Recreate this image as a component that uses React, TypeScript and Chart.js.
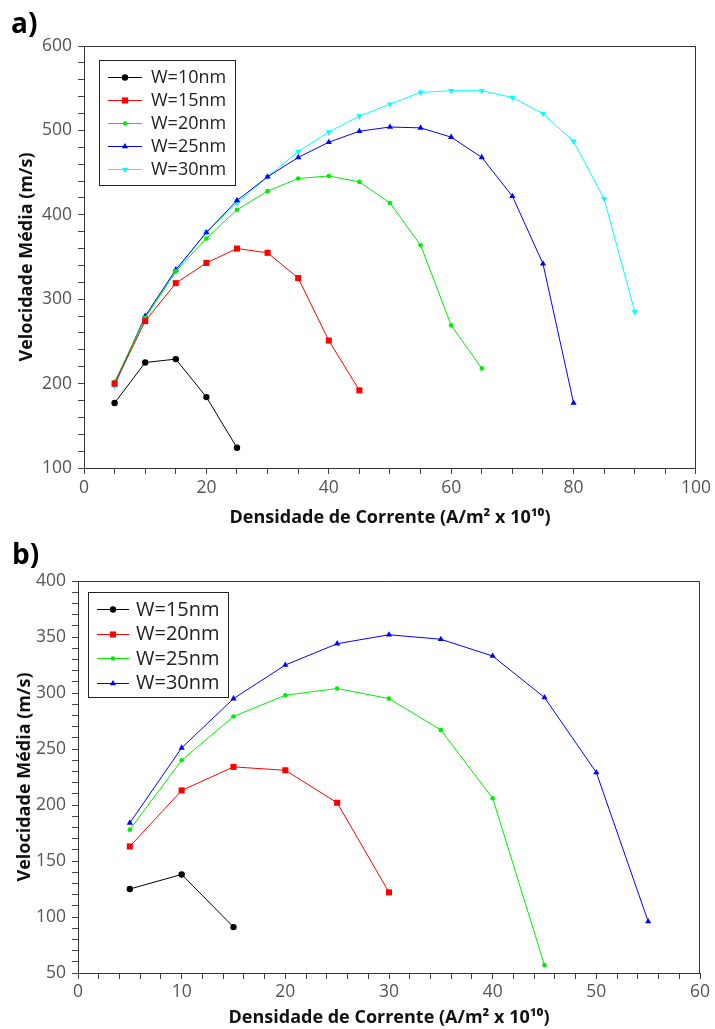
import React, { useEffect, useRef } from 'react';
import { Chart, registerables } from 'chart.js';
Chart.register(...registerables);

// ---------- data: chart a ----------
const xStepsA = [5, 10, 15, 20, 25, 30, 35, 40, 45, 50, 55, 60, 65, 70, 75, 80, 85, 90];
const aLabels = ['W=10nm', 'W=15nm', 'W=20nm', 'W=25nm', 'W=30nm'];
const aW10 = [177, 225, 229, 184, 124];
const aW15 = [200, 274, 319, 343, 360, 355, 325, 251, 192];
const aW20 = [202, 278, 333, 372, 406, 428, 443, 446, 439, 414, 364, 269, 218];
const aW25 = [199, 280, 335, 379, 417, 445, 468, 486, 499, 504, 503, 492, 468, 422, 342, 177];
const aW30 = [197, 278, 333, 380, 414, 445, 475, 498, 517, 531, 545, 547, 547, 539, 520, 487, 419, 285];

// ---------- data: chart b ----------
const xStepsB = [5, 10, 15, 20, 25, 30, 35, 40, 45, 50, 55];
const bLabels = ['W=15nm', 'W=20nm', 'W=25nm', 'W=30nm'];
const bW15 = [125, 138, 91];
const bW20 = [163, 213, 234, 231, 202, 122];
const bW25 = [178, 240, 279, 298, 304, 295, 267, 206, 57];
const bW30 = [184, 251, 295, 325, 344, 352, 348, 333, 296, 229, 96];

const xTitle = 'Densidade de Corrente (A/m² x 10¹⁰)';
const yTitle = 'Velocidade Média (m/s)';

const FONT = '"Open Sans", "DejaVu Sans", sans-serif';

type Style = { color: string; shape: string; r: number };
const sBlack: Style = { color: '#000000', shape: 'circle', r: 3.2 };
const sRed: Style = { color: '#ff0000', shape: 'rect', r: 4.3 };
const sGreen: Style = { color: '#00ee00', shape: 'circle', r: 2.3 };
const sBlue: Style = { color: '#0000ff', shape: 'triangle', r: 3.6 };
const sCyan: Style = { color: '#00ffff', shape: 'triangleDown', r: 3.6 };

function toPoints(xs: number[], ys: number[]) {
  return ys.map((y, i) => ({ x: xs[i], y }));
}

function makeDataset(label: string, xs: number[], ys: number[], s: Style) {
  return {
    label,
    data: toPoints(xs, ys),
    borderColor: s.color,
    backgroundColor: s.color,
    borderWidth: 1,
    pointStyle: s.shape === 'triangleDown' ? 'triangle' : s.shape,
    rotation: s.shape === 'triangleDown' ? 180 : 0,
    pointRadius: s.r,
    pointBorderWidth: 0,
    pointBackgroundColor: s.color,
    tension: 0,
    _shape: s.shape,
  };
}

function drawMarker(ctx: CanvasRenderingContext2D, shape: string, x: number, y: number, r: number, color: string) {
  ctx.save();
  ctx.fillStyle = color;
  ctx.beginPath();
  if (shape === 'circle') {
    ctx.arc(x, y, r, 0, Math.PI * 2);
  } else if (shape === 'rect') {
    const h = r * Math.SQRT1_2;
    ctx.rect(x - h, y - h, 2 * h, 2 * h);
  } else if (shape === 'triangle' || shape === 'triangleDown') {
    const sgn = shape === 'triangle' ? 1 : -1;
    const side = (3 * r) / Math.sqrt(3);
    const height = (side * Math.sqrt(3)) / 2;
    ctx.moveTo(x, y - sgn * (2 * height) / 3);
    ctx.lineTo(x - side / 2, y + sgn * height / 3);
    ctx.lineTo(x + side / 2, y + sgn * height / 3);
    ctx.closePath();
  }
  ctx.fill();
  ctx.restore();
}

const decorPlugin = {
  id: 'decor',
  afterDraw(chart: any, _args: any, opts: any) {
    const { ctx, chartArea: ca } = chart;
    ctx.save();
    // frame top and right
    ctx.strokeStyle = '#333';
    ctx.lineWidth = 1;
    ctx.beginPath();
    const t = Math.round(ca.top) + 0.5;
    const r = Math.round(ca.right) - 0.5;
    ctx.moveTo(ca.left, t);
    ctx.lineTo(r, t);
    ctx.lineTo(r, ca.bottom);
    ctx.stroke();

    // legend
    const L = opts.legend;
    const bx = ca.left + L.dx;
    const by = ca.top + L.dy;
    ctx.fillStyle = '#ffffff';
    ctx.fillRect(bx, by, L.w, L.h);
    ctx.strokeStyle = '#222';
    ctx.strokeRect(Math.round(bx) + 0.5, Math.round(by) + 0.5, L.w, L.h);
    ctx.font = `${L.fontSize}px ${FONT}`;
    ctx.textBaseline = 'middle';
    ctx.textAlign = 'left';
    chart.data.datasets.forEach((ds: any, i: number) => {
      const y = by + L.firstY + i * L.gap;
      ctx.strokeStyle = ds.borderColor;
      ctx.lineWidth = 1;
      ctx.beginPath();
      ctx.moveTo(bx + L.lineX0, Math.round(y) + 0.5);
      ctx.lineTo(bx + L.lineX1, Math.round(y) + 0.5);
      ctx.stroke();
      drawMarker(ctx, ds._shape, bx + (L.lineX0 + L.lineX1) / 2, Math.round(y) + 0.5, ds.pointRadius, ds.borderColor);
      ctx.fillStyle = '#222';
      ctx.fillText(ds.label, bx + L.textX, y + 1);
    });

    // panel label
    ctx.fillStyle = '#000';
    ctx.font = `bold 28px ${FONT}`;
    ctx.textBaseline = 'alphabetic';
    ctx.fillText(opts.panel, opts.panelX, opts.panelY);
    ctx.restore();
  },
};

function makeConfig(p: any) {
  return {
    type: 'line',
    data: { datasets: p.datasets },
    plugins: [decorPlugin],
    options: {
      responsive: false,
      animation: false,
      layout: { padding: { top: p.padTop, right: p.padRight, left: 0, bottom: 0 } },
      plugins: {
        legend: { display: false },
        tooltip: { enabled: false },
        decor: { legend: p.legend, panel: p.panel, panelX: p.panelX, panelY: p.panelY },
      },
      scales: {
        x: {
          type: 'linear',
          min: p.xMin,
          max: p.xMax,
          afterFit: (s: any) => { s.height = p.xAxisH; },
          border: { display: true, color: '#333', width: 1 },
          grid: { display: true, drawOnChartArea: false, drawTicks: true, tickLength: 6, color: '#444' },
          ticks: {
            stepSize: p.xMinor,
            autoSkip: false,
            maxRotation: 0,
            padding: p.xTickPad,
            color: '#555',
            font: { family: FONT, size: 17.5 },
            callback: (v: number) => (Math.abs(v % p.xMajor) < 1e-9 ? String(v) : ''),
          },
          title: {
            display: true,
            text: xTitle,
            color: '#111',
            font: { family: FONT, size: 18, weight: 'bold' },
            padding: { top: 0, bottom: p.xTitlePad },
          },
        },
        y: {
          type: 'linear',
          min: p.yMin,
          max: p.yMax,
          afterFit: (s: any) => { s.width = p.yAxisW; },
          border: { display: true, color: '#333', width: 1 },
          grid: { display: true, drawOnChartArea: false, drawTicks: true, tickLength: 6, color: '#444' },
          ticks: {
            stepSize: p.yMinor,
            autoSkip: false,
            padding: 6,
            color: '#555',
            font: { family: FONT, size: 17.5 },
            callback: (v: number) => (Math.abs(v % p.yMajor) < 1e-9 ? String(v) : ''),
          },
          title: {
            display: true,
            text: yTitle,
            color: '#111',
            font: { family: FONT, size: 18, weight: 'bold' },
            padding: { top: p.yTitlePad, bottom: 0 },
          },
        },
      },
    },
  };
}

const configA = () =>
  makeConfig({
    datasets: [
      makeDataset(aLabels[0], xStepsA, aW10, sBlack),
      makeDataset(aLabels[1], xStepsA, aW15, sRed),
      makeDataset(aLabels[2], xStepsA, aW20, sGreen),
      makeDataset(aLabels[3], xStepsA, aW25, sBlue),
      makeDataset(aLabels[4], xStepsA, aW30, sCyan),
    ],
    padTop: 46, padRight: 18, xAxisH: 62, yAxisW: 84,
    xMin: 0, xMax: 100, xMinor: 5, xMajor: 20,
    yMin: 100, yMax: 600, yMinor: 20, yMajor: 100,
    xTickPad: 4, xTitlePad: 1, yTitlePad: 16,
    legend: { dx: 15, dy: 14, w: 136, h: 125, firstY: 17, gap: 23, lineX0: 9, lineX1: 43, textX: 52, fontSize: 18 },
    panel: 'a)', panelX: 11, panelY: 33,
  });

const configB = () =>
  makeConfig({
    datasets: [
      makeDataset(bLabels[0], xStepsB, bW15, sBlack),
      makeDataset(bLabels[1], xStepsB, bW20, sRed),
      makeDataset(bLabels[2], xStepsB, bW25, sGreen),
      makeDataset(bLabels[3], xStepsB, bW30, sBlue),
    ],
    padTop: 51, padRight: 15, xAxisH: 56, yAxisW: 78,
    xMin: 0, xMax: 60, xMinor: 2, xMajor: 10,
    yMin: 50, yMax: 400, yMinor: 10, yMajor: 50,
    xTickPad: 3, xTitlePad: 0, yTitlePad: 14,
    legend: { dx: 10, dy: 11, w: 140, h: 105, firstY: 17, gap: 24.5, lineX0: 9, lineX1: 41, textX: 48, fontSize: 20 },
    panel: 'b)', panelX: 12, panelY: 34,
  });

function ChartCanvas({ make, width, height }: { make: () => any; width: number; height: number }) {
  const ref = useRef<HTMLCanvasElement | null>(null);
  useEffect(() => {
    if (!ref.current) return;
    const chart = new Chart(ref.current, make());
    return () => chart.destroy();
  }, [make]);
  return <canvas ref={ref} width={width} height={height} style={{ display: 'block', width, height }} />;
}

export default function App() {
  return (
    <div style={{ position: 'absolute', left: 0, top: 0, width: 715, height: 1029, background: '#fff' }}>
      <ChartCanvas make={configA} width={715} height={530} />
      <ChartCanvas make={configB} width={715} height={499} />
    </div>
  );
}
